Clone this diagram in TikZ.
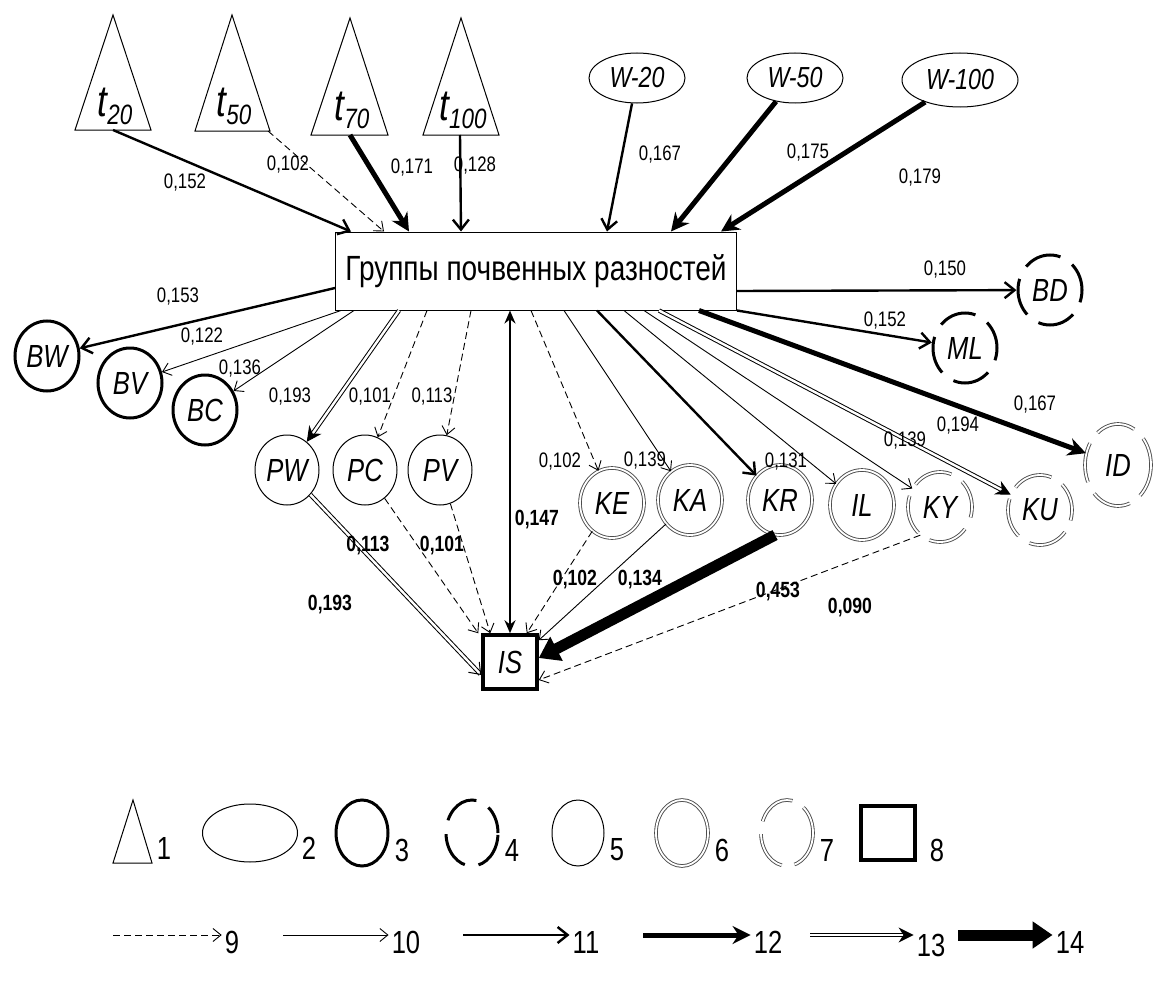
\documentclass[tikz,border=0pt]{standalone}
\usepackage{fontspec}
\setmainfont{Liberation Sans}[FakeStretch=0.8]
\usetikzlibrary{arrows.meta,shapes.geometric}

\newcommand{\tsub}[1]{{\fontsize{44}{44}\selectfont\itshape t}\raisebox{-8pt}{\fontsize{28}{28}\selectfont\itshape #1}}

\tikzset{
  tri/.style={line width=1pt},
  kw/.style={ellipse, draw, line width=1pt, minimum width=96pt, minimum height=50pt, inner sep=0pt, font=\fontsize{29}{29}\selectfont\itshape},
  k3/.style={ellipse, draw, line width=3pt, minimum width=64pt, minimum height=70pt, inner sep=0pt, font=\fontsize{32}{32}\selectfont\itshape},
  k4/.style={k3, dash pattern=on 38pt off 14pt, dash phase=10pt},
  k5/.style={k3, line width=1pt},
  k6/.style={k3, line width=0.9pt, double, double distance=1.8pt, draw=black!70},
  k7/.style={k6, dash pattern=on 40pt off 13pt, dash phase=12pt},
  k8/.style={draw, line width=3.5pt, minimum size=54pt, inner sep=0pt, font=\fontsize{32}{32}\selectfont\itshape},
  wt/.style={font=\fontsize{21}{21}\selectfont},
  hw/.style={font=\fontsize{22}{22}\selectfont\bfseries},
  nt/.style={font=\fontsize{32}{32}\selectfont, inner sep=3pt},
  a9/.style={line width=0.9pt, dash pattern=on 7pt off 4pt, -{Straight Barb[length=8pt,width=13pt]}},
  a10/.style={line width=0.9pt, -{Straight Barb[length=8pt,width=13pt]}},
  a11/.style={line width=2.4pt, -{Straight Barb[length=10pt,width=16pt]}},
  a12/.style={line width=5pt, -{Stealth[length=18pt,width=18pt]}},
  a13/.style={line width=1pt, double, double distance=2.4pt, -{Stealth[length=15pt,width=15pt]}},
  a14/.style={line width=11pt, -{Triangle[length=20pt,width=26pt]}},
}

\begin{document}
\begin{tikzpicture}[x=1pt, y=-1pt]
    \useasboundingbox (0,0) rectangle (1160,990);

    % factors on top
    \draw[tri] (75,130) -- (113,15) -- (151,130) -- cycle;
    \draw[tri] (195,131) -- (232,15) -- (270,131) -- cycle;
    \draw[tri] (311,135) -- (350,18) -- (388,135) -- cycle;
    \draw[tri] (423,135) -- (461,18) -- (499,135) -- cycle;
    \coordinate (t20) at (113,130);
    \coordinate (t50) at (268,131);
    \coordinate (t70) at (350,135);
    \coordinate (t100) at (460,135);
    \node (t20l) at (115,106) {\tsub{20}};
    \node (t50l) at (234,106) {\tsub{50}};
    \node (t70l) at (352,110) {\tsub{70}};
    \node (t100l) at (463,110) {\tsub{100}};

    \node[kw] (w20) at (637,78) {W-20};
    \node[kw] (w50) at (795,78) {W-50};
    \node[kw, minimum width=116pt, minimum height=54pt] (w100) at (960,80) {W-100};

    % central box
    \node[draw, line width=1pt, minimum width=401pt, minimum height=78pt, font=\fontsize{35}{35}\selectfont] (box) at (536,271) {Группы почвенных разностей};

    % groups
    \node[k3] (BW) at (47,356) {BW};
    \node[k3] (BV) at (130,383) {BV};
    \node[k3] (BC) at (205,410) {BC};
    \node[k5] (PW) at (287,470) {PW};
    \node[k5] (PC) at (365,470) {PC};
    \node[k5] (PV) at (440,470) {PV};
    \node[k6] (KE) at (612,503) {KE};
    \node[k6] (KA) at (690,500) {KA};
    \node[k6] (KR) at (780,500) {KR};
    \node[k6] (IL) at (862,505) {IL};
    \node[k7] (KY) at (940,507) {KY};
    \node[k7] (KU) at (1040,510) {KU};
    \node[k7, minimum width=66pt, minimum height=82pt] (ID) at (1118,465) {ID};
    \node[k4] (ML) at (965,348) {ML};
    \node[k4] (BD) at (1050,290) {BD};
    \node[k8] (IS) at (510,662) {IS};

    % into the box
    \draw[a11] (t20) -- ([xshift=16pt]box.north west);
    \draw[a9] (t50) -- ([xshift=49pt]box.north west);
    \draw[a12] (t70) -- ([xshift=74pt]box.north west);
    \draw[a11] (t100) -- ([xshift=126pt]box.north west);
    \draw[a11] (w20) -- ([xshift=272pt]box.north west);
    \draw[a12] (w50) -- ([xshift=336pt]box.north west);
    \draw[a12] (w100) -- ([xshift=386pt]box.north west);

    % out of the box
    \draw[a11] ([yshift=-17pt]box.west) -- (BW);
    \draw[a10] ([xshift=6pt]box.south west) -- (BV);
    \draw[a10] ([xshift=19pt]box.south west) -- (BC);
    \draw[a13] ([xshift=64pt]box.south west) -- (PW);
    \draw[a9] ([xshift=92pt]box.south west) -- (PC);
    \draw[a9] ([xshift=136pt]box.south west) -- (PV);
    \draw[a9] ([xshift=196pt]box.south west) -- (KE);
    \draw[a10] ([xshift=229pt]box.south west) -- (KA);
    \draw[a11] ([xshift=262pt]box.south west) -- (KR);
    \draw[a10] ([xshift=289pt]box.south west) -- (IL);
    \draw[a10] ([xshift=309pt]box.south west) -- (KY);
    \draw[a13] ([xshift=324pt]box.south west) -- (KU);
    \draw[a12] ([xshift=364pt]box.south west) -- (ID);
    \draw[a11] (box.south east) -- (ML);
    \draw[a11] ([yshift=-20pt]box.east) -- (BD);

    % into IS
    \draw[a11, {Stealth[length=13pt,width=11pt]}-{Stealth[length=13pt,width=11pt]}] (IS.north) -- (IS.north |- box.south);
    \draw[a13, -{Straight Barb[length=10pt,width=15pt]}] (PW) -- ([yshift=-13pt]IS.west);
    \draw[a9] (PC) -- ([xshift=-3pt]IS.north west);
    \draw[a9] (PV) -- ([xshift=9pt]IS.north west);
    \draw[a9] (KE.235) -- ([xshift=-12pt]IS.north east);
    \draw[a10] (KA.225) -- ([yshift=-7pt]IS.north east);
    \draw[a14] (KR.262) -- ([yshift=4pt]IS.east);
    \draw[a9] (KY.235) -- ([yshift=-18pt]IS.east);

    % weights
    \node[wt] (v1) at (185,183) {0,152};
    \node[wt] (v2) at (288,165) {0,102};
    \node[wt] (v3) at (412,168) {0,171};
    \node[wt] (v4) at (475,166) {0,128};
    \node[wt] (v5) at (660,155) {0,167};
    \node[wt] (v6) at (808,153) {0,175};
    \node[wt] (v7) at (920,178) {0,179};
    \node[wt] (v8) at (178,297) {0,153};
    \node[wt] (v9) at (202,337) {0,122};
    \node[wt] (v10) at (240,369) {0,136};
    \node[wt] (v11) at (290,397) {0,193};
    \node[wt] (v12) at (370,397) {0,101};
    \node[wt] (v13) at (432,397) {0,113};
    \node[wt] (v14) at (945,270) {0,150};
    \node[wt] (v15) at (885,321) {0,152};
    \node[wt] (v16) at (1035,405) {0,167};
    \node[wt] (v17) at (958,426) {0,194};
    \node[wt] (v18) at (905,441) {0,139};
    \node[wt] (v19) at (560,462) {0,102};
    \node[wt] (v20) at (645,461) {0,139};
    \node[wt] (v21) at (786,462) {0,131};
    \node[hw] (v22) at (537,520) {0,147};
    \node[hw] (v23) at (368,546) {0,113};
    \node[hw] (v24) at (442,546) {0,101};
    \node[hw] (v25) at (330,605) {0,193};
    \node[hw] (v26) at (575,580) {0,102};
    \node[hw] (v27) at (640,580) {0,134};
    \node[hw] (v28) at (778,592) {0,453};
    \node[hw] (v29) at (850,608) {0,090};

    % legend, shapes
    \draw[tri] (113,863) -- (133,800) -- (152,863) -- cycle;
    \node[nt] (n1) at (164,848) {1};
    \node[kw, minimum width=95pt, minimum height=58pt] (e2) at (250,833) {};
    \node[nt] (n2) at (309,848) {2};
    \node[k3, minimum width=52pt, minimum height=66pt] (e3) at (362,833) {};
    \node[nt] (n3) at (402,850) {3};
    \node[k4, minimum width=52pt, minimum height=66pt] (e4) at (472,833) {};
    \node[nt] (n4) at (512,850) {4};
    \node[k5, minimum width=52pt, minimum height=66pt] (e5) at (578,833) {};
    \node[nt] (n5) at (617,850) {5};
    \node[k6, minimum width=52pt, minimum height=66pt] (e6) at (682,833) {};
    \node[nt] (n6) at (722,850) {6};
    \node[k7, minimum width=52pt, minimum height=66pt] (e7) at (787,833) {};
    \node[nt] (n7) at (827,850) {7};
    \node[k8] (e8) at (888,833) {};
    \node[nt] (n8) at (937,850) {8};

    % legend, arrows
    \coordinate (s9) at (113,935);
    \coordinate (s10) at (283,935);
    \coordinate (s11) at (463,935);
    \coordinate (s12) at (643,935);
    \coordinate (s13) at (810,935);
    \coordinate (s14) at (958,935);
    \node[nt] (n9) at (232,942) {9};
    \node[nt] (n10) at (406,942) {10};
    \node[nt] (n11) at (586,942) {11};
    \node[nt] (n12) at (768,942) {12};
    \node[nt] (n13) at (931,945) {13};
    \node[nt] (n14) at (1070,942) {14};
    \draw[a9] (s9) -- (s9 -| n9.west);
    \draw[a10] (s10) -- (s10 -| n10.west);
    \draw[a11] (s11) -- (s11 -| n11.west);
    \draw[a12] (s12) -- (s12 -| n12.west);
    \draw[a13] (s13) -- (s13 -| n13.west);
    \draw[a14] (s14) -- (s14 -| n14.west);
\end{tikzpicture}
\end{document}
